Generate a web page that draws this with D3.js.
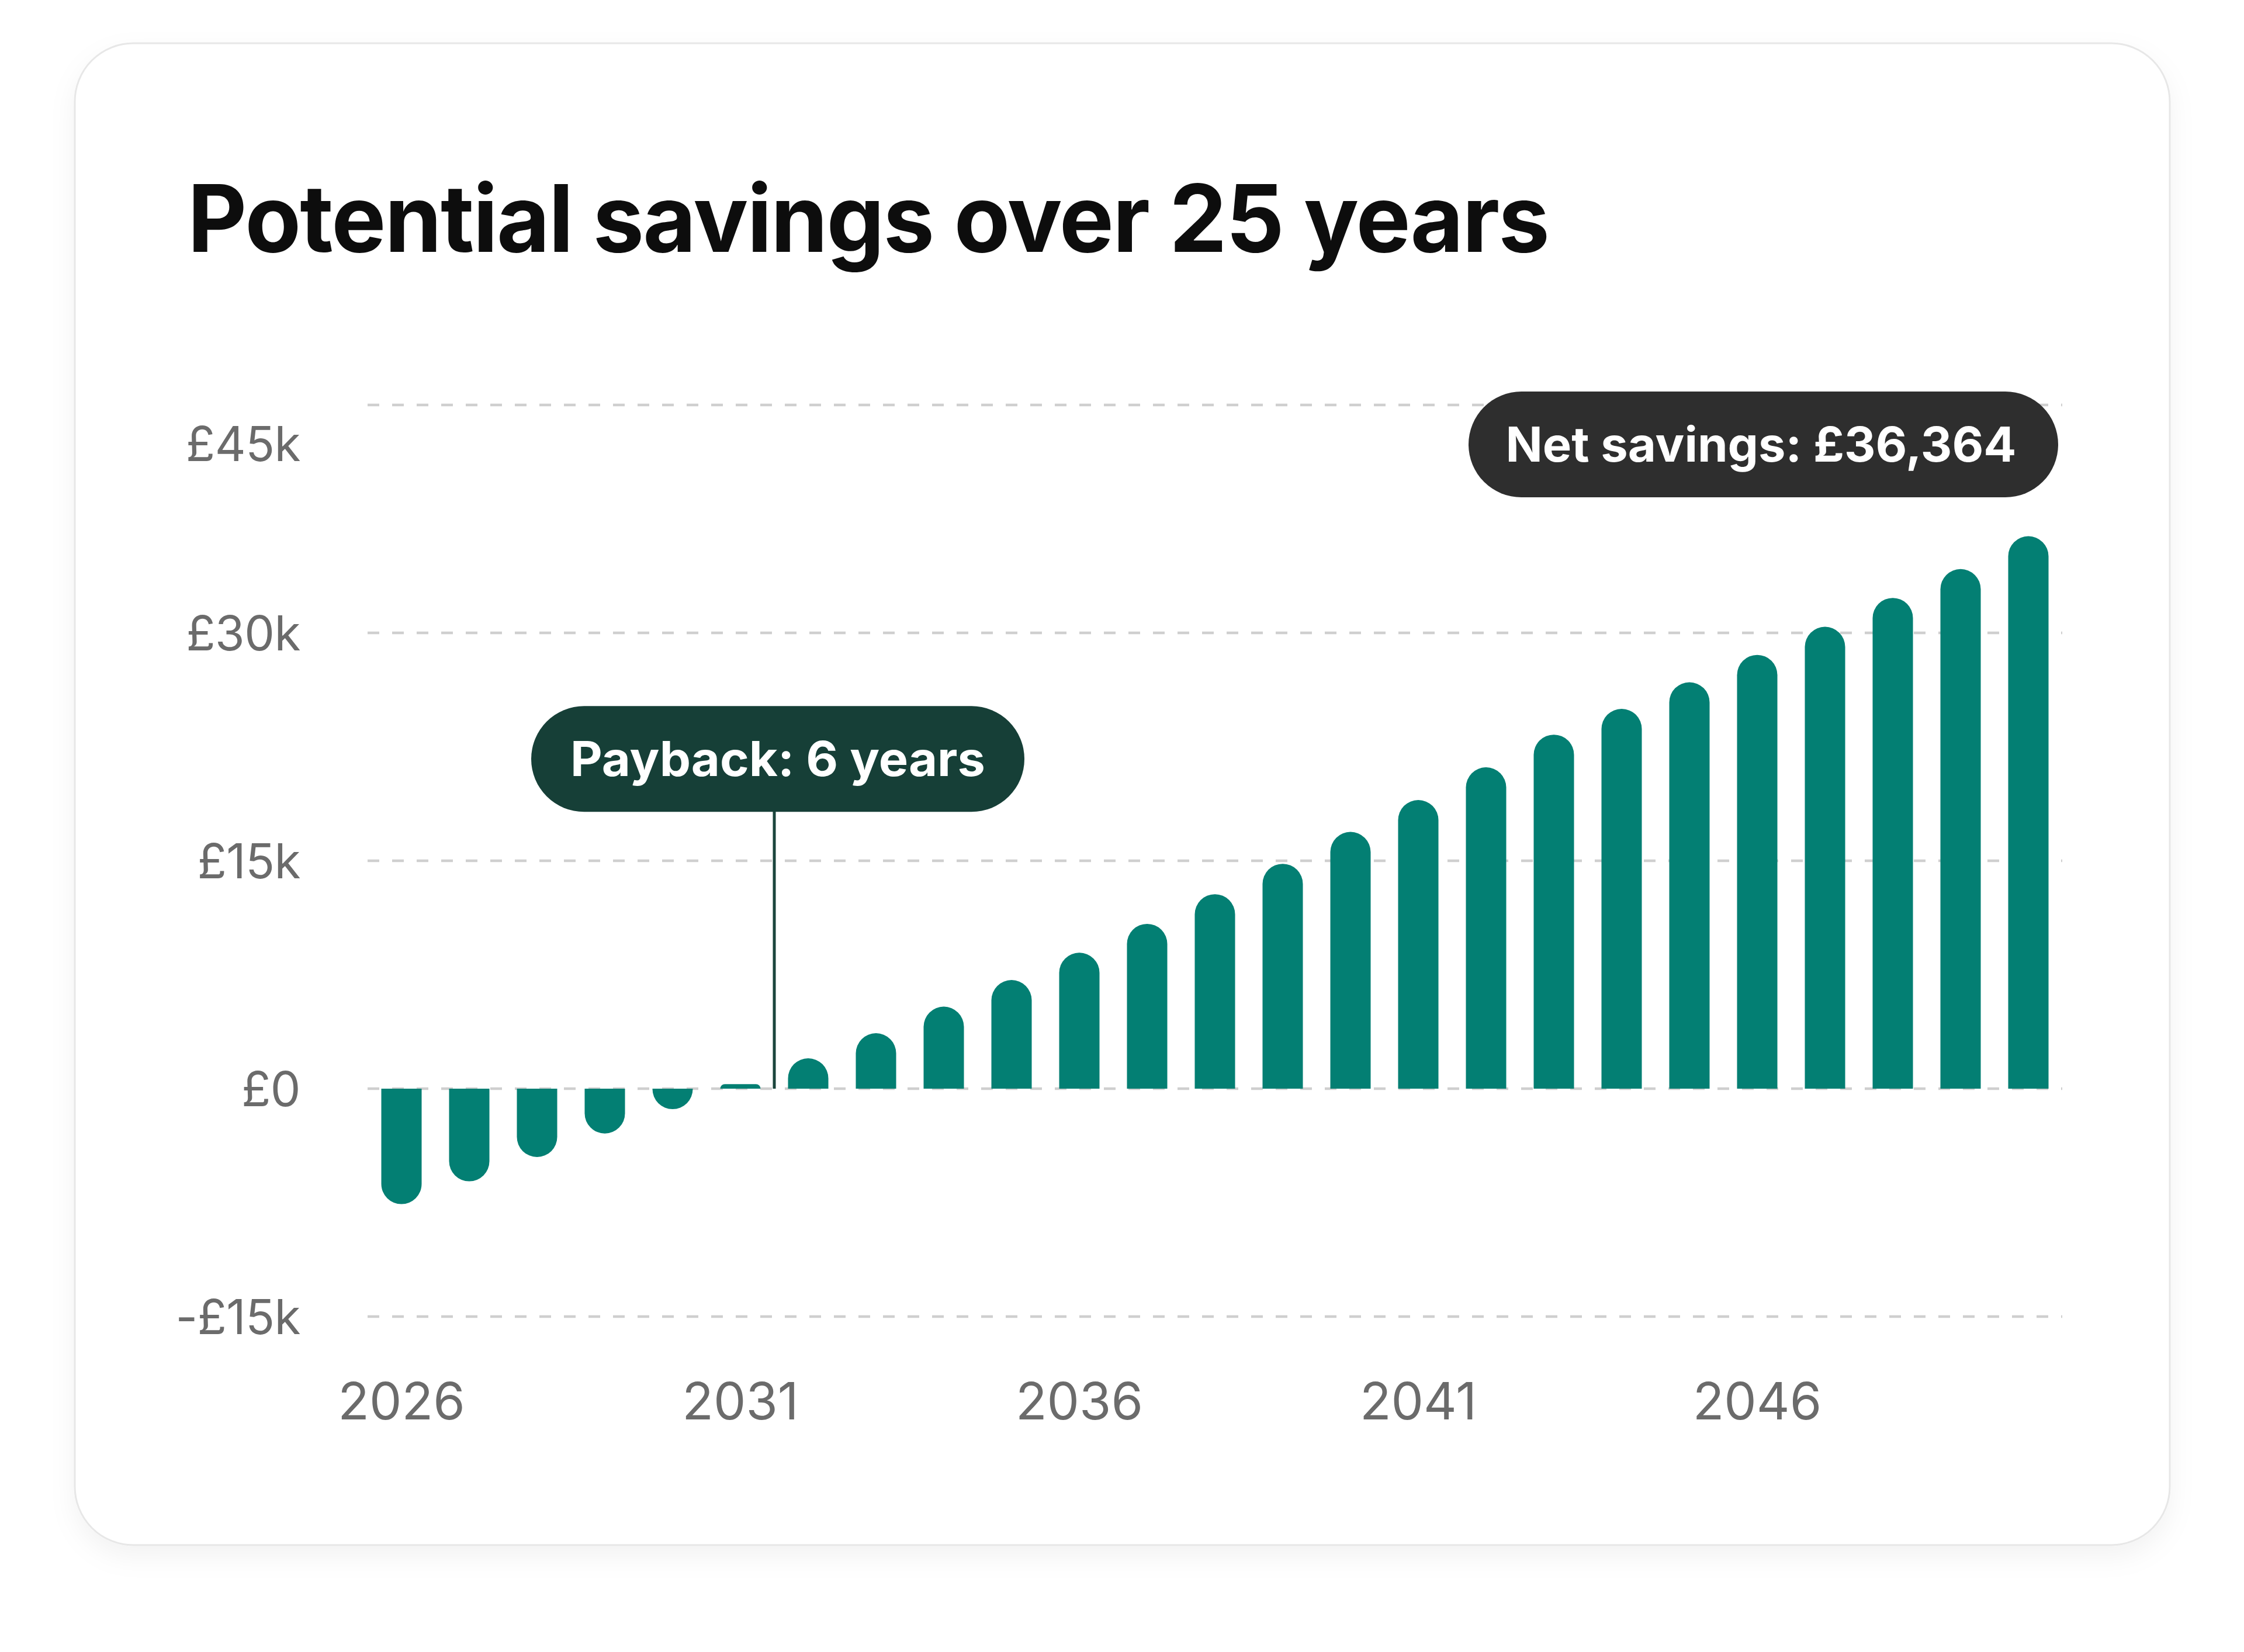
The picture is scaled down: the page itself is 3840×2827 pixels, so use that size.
<!DOCTYPE html>
<html>
<head>
<meta charset="utf-8">
<script src="https://cdn.jsdelivr.net/npm/d3@7"></script>
<style>
  html, body { margin: 0; padding: 0; background: #ffffff; }
  svg { display: block; }
</style>
</head>
<body>
<svg id="chart" width="3840" height="2827"></svg>
<script>
// ---- data ----
const years = ["2026","2027","2028","2029","2030","2031","2032","2033","2034","2035","2036","2037","2038","2039","2040","2041","2042","2043","2044","2045","2046","2047","2048","2049","2050"];
const netSavings = [-7600,-6100,-4500,-2950,-1350,300,2000,3650,5400,7150,8950,10850,12800,14800,16900,19000,21150,23300,25000,26750,28550,30400,32300,34200,36364];
const yTicks = [-15000, 0, 15000, 30000, 45000];
const yTickLabels = ["-£15k", "£0", "£15k", "£30k", "£45k"];
const xTickYears = ["2026","2031","2036","2041","2046"];
const titleText = "Potential savings over 25 years";
const paybackText = "Payback: 6 years";
const paybackYear = "2031";
const paybackLabelValue = 21700;
const netText = "Net savings: £36,364";
const netLabelValue = 42400;

// ---- setup ----
const svg = d3.select("#chart");
const defs = svg.append("defs");
const f = defs.append("filter").attr("id","shadow").attr("x","-10%").attr("y","-10%").attr("width","120%").attr("height","125%");
f.append("feDropShadow").attr("dx",0).attr("dy",18).attr("stdDeviation",22).attr("flood-color","#000").attr("flood-opacity",0.05);

// card
svg.append("rect")
  .attr("x",128).attr("y",74).attr("width",3585).attr("height",2570)
  .attr("rx",100).attr("ry",100)
  .attr("fill","#ffffff").attr("stroke","#e7e7e7").attr("stroke-width",3)
  .attr("filter","url(#shadow)");

const FONT = "Inter, 'Noto Sans', sans-serif";

function fitWidth(sel, w) {
  sel.each(function() {
    const len = this.getComputedTextLength();
    if (len > 0 && Math.abs(len - w) > 2) {
      d3.select(this).attr("textLength", w).attr("lengthAdjust", "spacingAndGlyphs");
    }
  });
}

// title
svg.append("text")
  .attr("x",321).attr("y",431)
  .attr("font-family",FONT).attr("font-weight",700).attr("font-size",160)
  .attr("fill","#0d0d0d").attr("letter-spacing",-2)
  .text(titleText)
  .call(fitWidth, 2329);

// scales
const x = d3.scaleBand().domain(years).range([629, 3529]).paddingInner(0.405).paddingOuter(0.2025);
const y = d3.scaleLinear().domain([-15000, 45000]).range([2253, 693]);

// gridlines
svg.append("g").selectAll("line").data(yTicks).join("line")
  .attr("x1", x.range()[0]).attr("x2", x.range()[1])
  .attr("y1", d => y(d)).attr("y2", d => y(d))
  .attr("stroke","#cfcfcf").attr("stroke-width",4.5)
  .attr("stroke-dasharray","20 22");

// y labels
svg.append("g").selectAll("text").data(yTicks).join("text")
  .attr("x", 514)
  .attr("y", (d,i) => y(d) + (d === 45000 ? 66 : 0))
  .attr("dy","0.36em")
  .attr("text-anchor","end")
  .attr("font-family",FONT).attr("font-weight",400).attr("font-size",82)
  .attr("fill","#6b6b6b").attr("letter-spacing",-0.5)
  .text((d,i) => yTickLabels[i]);

// x labels
svg.append("g").selectAll("text").data(xTickYears).join("text")
  .attr("x", d => x(d) + x.bandwidth()/2)
  .attr("y", 2429)
  .attr("text-anchor","middle")
  .attr("font-family",FONT).attr("font-weight",400).attr("font-size",88)
  .attr("fill","#6b6b6b").attr("letter-spacing",0)
  .text(d => d);

// bars with rounded far end
function barPath(x0, w, yz, yv) {
  const h = Math.abs(yz - yv);
  const r = Math.min(w/2, h);
  if (yv <= yz) {
    return `M${x0},${yz} L${x0},${yv + r} A${r},${r} 0 0 1 ${x0 + r},${yv} L${x0 + w - r},${yv} A${r},${r} 0 0 1 ${x0 + w},${yv + r} L${x0 + w},${yz} Z`;
  } else {
    return `M${x0},${yz} L${x0},${yv - r} A${r},${r} 0 0 0 ${x0 + r},${yv} L${x0 + w - r},${yv} A${r},${r} 0 0 0 ${x0 + w},${yv - r} L${x0 + w},${yz} Z`;
  }
}
const bars = years.map((yr, i) => ({ year: yr, value: netSavings[i] }));
svg.append("g").selectAll("path").data(bars).join("path")
  .attr("d", d => barPath(x(d.year), x.bandwidth(), y(0), y(d.value)))
  .attr("fill","#037f73");

// payback annotation
const step = x.step();
const pbX = x(paybackYear) + x.bandwidth()/2 + step/2;
const pillH = 181;
const pbY = y(paybackLabelValue);
svg.append("line")
  .attr("x1", pbX).attr("x2", pbX)
  .attr("y1", pbY).attr("y2", y(0))
  .attr("stroke","#1b453c").attr("stroke-width",5);
const pbW = 844;
svg.append("rect")
  .attr("x", pbX + 6 - pbW/2).attr("y", pbY - pillH/2)
  .attr("width", pbW).attr("height", pillH)
  .attr("rx", pillH/2).attr("ry", pillH/2)
  .attr("fill","#163f37");
svg.append("text")
  .attr("x", pbX + 6).attr("y", pbY).attr("dy","0.36em")
  .attr("text-anchor","middle")
  .attr("font-family",FONT).attr("font-weight",700).attr("font-size",82)
  .attr("fill","#ffffff")
  .text(paybackText)
  .call(fitWidth, 710);

// net savings annotation
const nsW = 1009;
const nsRight = x.range()[1] - 7;
const nsY = y(netLabelValue);
svg.append("rect")
  .attr("x", nsRight - nsW).attr("y", nsY - pillH/2)
  .attr("width", nsW).attr("height", pillH)
  .attr("rx", pillH/2).attr("ry", pillH/2)
  .attr("fill","#2e2e2e");
svg.append("text")
  .attr("x", nsRight - nsW/2 - 4).attr("y", nsY).attr("dy","0.36em")
  .attr("text-anchor","middle")
  .attr("font-family",FONT).attr("font-weight",700).attr("font-size",82)
  .attr("fill","#ffffff")
  .text(netText)
  .call(fitWidth, 874);
</script>
</body>
</html>
